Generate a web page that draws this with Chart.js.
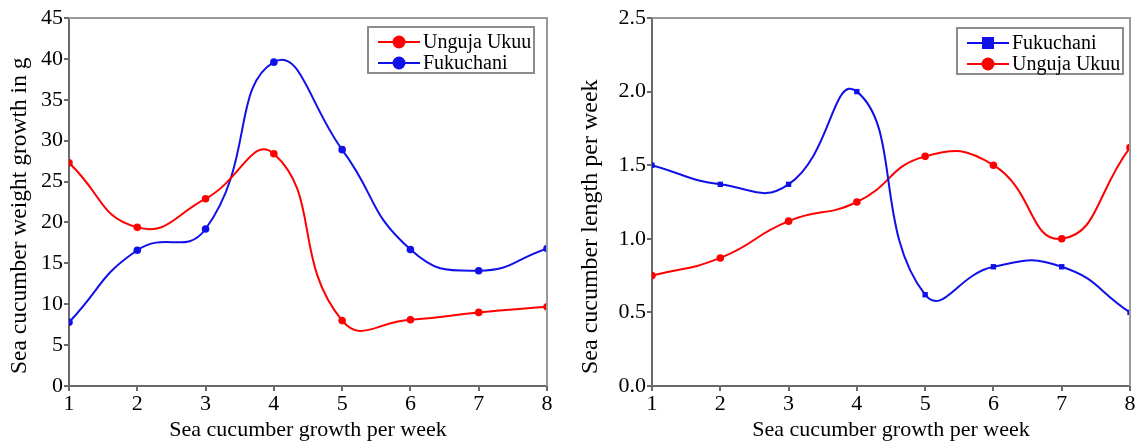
<!DOCTYPE html>
<html>
<head>
<meta charset="utf-8">
<script src="https://cdn.jsdelivr.net/npm/chart.js@4/dist/chart.umd.min.js"></script>
<style>
  html, body { margin: 0; padding: 0; background: #fff; }
  #wrap { position: relative; width: 1144px; height: 447px; }
  .box { position: absolute; top: 0; width: 572px; height: 447px; }
</style>
</head>
<body>
<div id="wrap">
  <div class="box" style="left:0"><canvas id="weight-canvas"></canvas></div>
  <div class="box" style="left:572px"><canvas id="length-canvas"></canvas></div>
</div>
<script>
const weeks = [1, 2, 3, 4, 5, 6, 7, 8];

// weight growth (g)
const weightUnguja = [27.3, 19.4, 22.9, 28.4, 8.0, 8.1, 9.0, 9.7];
const weightFukuchani = [7.8, 16.6, 19.2, 39.6, 28.9, 16.7, 14.1, 16.8];

// length growth per week
const lengthFukuchani = [1.5, 1.37, 1.37, 2.0, 0.62, 0.81, 0.81, 0.5];
const lengthUnguja = [0.75, 0.87, 1.12, 1.25, 1.56, 1.5, 1.0, 1.62];

const RED = '#ff0000';
const BLUE = '#1010e8';
const FRAME = '#6a6a6a';
const SERIF = '"Liberation Serif", "Times New Roman", serif';

function pts(values) {
    return weeks.map((w, i) => ({ x: w, y: values[i] }));
}

// frame round the plot, legend box inside it, and the y title (starts near the bottom)
const frameLegend = {
    id: 'frameLegend',
    afterDraw(chart, args, opts) {
        const ctx = chart.ctx;
        const a = chart.chartArea;
        ctx.save();
        ctx.strokeStyle = '#9a9a9a';
        ctx.lineWidth = 2;
        ctx.beginPath();
        ctx.moveTo(a.left, a.top);
        ctx.lineTo(a.right, a.top);
        ctx.lineTo(a.right, a.bottom);
        ctx.stroke();

        const bx = a.right - opts.right - opts.width;
        const by = a.top + opts.top;
        const bh = 46;
        ctx.fillStyle = '#fff';
        ctx.fillRect(bx, by, opts.width, bh);
        ctx.strokeStyle = '#8c8c8c';
        ctx.lineWidth = 2;
        ctx.strokeRect(bx, by, opts.width, bh);

        ctx.font = '20px ' + SERIF;
        ctx.textBaseline = 'middle';
        chart.data.datasets.forEach((ds, i) => {
            const y = by + 15 + i * 21;
            ctx.strokeStyle = ds.borderColor;
            ctx.lineWidth = 2;
            ctx.beginPath();
            ctx.moveTo(bx + 10, y);
            ctx.lineTo(bx + 52, y);
            ctx.stroke();
            ctx.fillStyle = ds.borderColor;
            if (ds.pointStyle === 'rect') {
                ctx.fillRect(bx + 25, y - 6, 12, 12);
            } else {
                ctx.beginPath();
                ctx.arc(bx + 31, y, 6.5, 0, Math.PI * 2);
                ctx.fill();
            }
            ctx.fillStyle = '#000';
            ctx.fillText(ds.label, bx + 55, y + 1);
        });

        // y axis title
        ctx.translate(opts.titleX, opts.titleBottom);
        ctx.rotate(-Math.PI / 2);
        ctx.font = opts.titleSize + 'px ' + SERIF;
        ctx.textAlign = 'left';
        ctx.fillStyle = '#000';
        ctx.fillText(opts.title, 0, 0);
        ctx.restore();
    }
};

function makeOptions(yMin, yMax, yStep, yWidth, padRight, legendOpts, decimals) {
    return {
        responsive: false,
        animation: false,
        layout: { padding: { left: 0, top: 18, right: padRight, bottom: 0 } },
        elements: {
            line: { tension: 0.5, borderWidth: 2, cubicInterpolationMode: 'default' },
            point: { radius: 3.8, borderWidth: 0 }
        },
        scales: {
            x: {
                type: 'linear',
                min: 1, max: 8,
                afterFit: s => { s.height = 61; },
                ticks: { stepSize: 1, color: '#000', padding: 0, font: { family: SERIF, size: 22 } },
                grid: { drawOnChartArea: false, drawTicks: true, tickLength: 5, color: FRAME, lineWidth: 2 },
                border: { display: true, color: FRAME, width: 2 },
                title: {
                    display: true, text: 'Sea cucumber growth per week', color: '#000',
                    font: { family: SERIF, size: 22 }, padding: { top: -3 }
                }
            },
            y: {
                min: yMin, max: yMax,
                afterFit: s => { s.width = yWidth; },
                ticks: {
                    stepSize: yStep, color: '#000', padding: 1,
                    font: { family: SERIF, size: 22 },
                    callback: v => decimals ? v.toFixed(1) : v
                },
                grid: { drawOnChartArea: false, drawTicks: true, tickLength: 5, color: FRAME, lineWidth: 2 },
                border: { display: true, color: FRAME, width: 2 }
            }
        },
        plugins: {
            legend: { display: false },
            tooltip: { enabled: false },
            frameLegend: legendOpts
        }
    };
}

document.addEventListener("DOMContentLoaded", () => {
    const c1 = document.getElementById('weight-canvas');
    c1.width = 572; c1.height = 447;
    new Chart(c1.getContext('2d'), {
        type: 'line',
        data: {
            datasets: [
                { label: 'Unguja Ukuu', data: pts(weightUnguja), borderColor: RED, backgroundColor: RED, pointStyle: 'circle' },
                { label: 'Fukuchani', data: pts(weightFukuchani), borderColor: BLUE, backgroundColor: BLUE, pointStyle: 'circle' }
            ]
        },
        options: makeOptions(0, 45, 5, 69, 25, {
            right: 13, top: 9, width: 166,
            title: 'Sea cucumber weight growth in g', titleX: 20, titleBottom: 374, titleSize: 23.5
        }, false),
        plugins: [frameLegend]
    });

    const c2 = document.getElementById('length-canvas');
    c2.width = 572; c2.height = 447;
    new Chart(c2.getContext('2d'), {
        type: 'line',
        data: {
            datasets: [
                { label: 'Fukuchani', data: pts(lengthFukuchani), borderColor: BLUE, backgroundColor: BLUE, pointStyle: 'rect' },
                { label: 'Unguja Ukuu', data: pts(lengthUnguja), borderColor: RED, backgroundColor: RED, pointStyle: 'circle' }
            ]
        },
        options: makeOptions(0, 2.5, 0.5, 80, 14, {
            right: 7, top: 10, width: 166,
            title: 'Sea cucumber length per week', titleX: 19, titleBottom: 374, titleSize: 24
        }, true),
        plugins: [frameLegend]
    });
});
</script>
</body>
</html>
